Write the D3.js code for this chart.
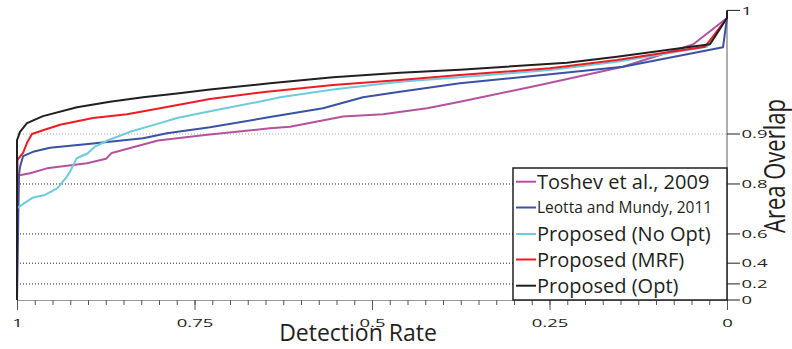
<!DOCTYPE html>
<html>
<head>
<meta charset="utf-8">
<script src="https://cdn.jsdelivr.net/npm/d3@7"></script>
<style>
  html, body { margin: 0; padding: 0; background: #fff; }
  svg { display: block; font-family: "Open Sans", sans-serif; }
</style>
</head>
<body>
<svg id="chart" width="792" height="349"></svg>
<script>
// Detection rate (x, reversed) versus area overlap (y, log-of-error scale)
const rateTicks = [1, 0.75, 0.5, 0.25, 0];
const rateTickLabels = ["1", "0.75", "0.5", "0.25", "0"];
const overlapTicks = [0, 0.2, 0.4, 0.6, 0.8, 0.9, 1];
const overlapTickLabels = ["0", "0.2", "0.4", "0.6", "0.8", "0.9", "1"];
const gridDark = [0.2, 0.4, 0.6, 0.8];
const gridLight = [0.9];

const seriesNames = ["Toshev et al., 2009", "Leotta and Mundy, 2011", "Proposed (No Opt)", "Proposed (MRF)", "Proposed (Opt)"];
const seriesColors = ["#b5519f", "#3a52a3", "#6ccbdc", "#ed1c24", "#231f20"];

const toshevRate    = [1, 1, 0.9982, 0.9817, 0.9577, 0.9014, 0.8746, 0.8666, 0.8014, 0.7352, 0.6437, 0.6155, 0.5408, 0.4845, 0.4225, 0.3761, 0.2634, 0.1465, 0.0479, 0];
const toshevOverlap = [0, 0.821, 0.822, 0.8275, 0.839, 0.850, 0.859, 0.870, 0.8906, 0.8986, 0.9076, 0.9096, 0.9216, 0.9239, 0.930, 0.936, 0.9493, 0.9607, 0.9711, 0.98];

const leottaRate    = [1, 0.9972, 0.9958, 0.9915, 0.9775, 0.9535, 0.8930, 0.8225, 0.7887, 0.7282, 0.6437, 0.5690, 0.5127, 0.4606, 0.3761, 0.2592, 0.1465, 0.0056, 0];
const leottaOverlap = [0, 0.823, 0.842, 0.864, 0.872, 0.879, 0.886, 0.894, 0.901, 0.909, 0.921, 0.930, 0.940, 0.9444, 0.9505, 0.9559, 0.9607, 0.970, 0.98];

const noOptRate    = [1, 1, 0.9887, 0.9770, 0.9606, 0.9430, 0.9310, 0.9254, 0.9159, 0.9007, 0.8901, 0.8718, 0.8408, 0.7986, 0.7746, 0.7282, 0.6437, 0.6296, 0.5549, 0.4606, 0.3761, 0.2493, 0.1549, 0.0282, 0];
const noOptOverlap = [0, 0.720, 0.741, 0.759, 0.767, 0.788, 0.816, 0.831, 0.860, 0.869, 0.881, 0.891, 0.903, 0.914, 0.920, 0.927, 0.938, 0.940, 0.946, 0.9516, 0.9545, 0.9588, 0.9633, 0.9702, 0.98];

const mrfRate    = [1, 1, 0.9993, 0.9958, 0.9915, 0.9859, 0.9789, 0.9634, 0.9394, 0.8930, 0.8451, 0.7986, 0.7282, 0.6479, 0.5549, 0.4606, 0.3761, 0.2493, 0.1549, 0.0620, 0.0310, 0];
const mrfOverlap = [0, 0.743, 0.857, 0.863, 0.870, 0.887, 0.900, 0.905, 0.912, 0.920, 0.924, 0.930, 0.9385, 0.9444, 0.9493, 0.9527, 0.9559, 0.9598, 0.9642, 0.9688, 0.9702, 0.98];

const optRate    = [1, 1, 0.9958, 0.9859, 0.9634, 0.9155, 0.8690, 0.8225, 0.7746, 0.7282, 0.6437, 0.5549, 0.4606, 0.3761, 0.2254, 0.1549, 0.0845, 0.0239, 0, 0];
const optOverlap = [0, 0.891, 0.903, 0.914, 0.922, 0.931, 0.936, 0.940, 0.943, 0.946, 0.9505, 0.9545, 0.9573, 0.959, 0.9628, 0.9658, 0.9688, 0.9712, 0.98, 1];

const seriesRates = [toshevRate, leottaRate, noOptRate, mrfRate, optRate];
const seriesOverlaps = [toshevOverlap, leottaOverlap, noOptOverlap, mrfOverlap, optOverlap];

const svg = d3.select("#chart");
const plotLeft = 17, plotRight = 727, plotBottom = 300, plotTop = 10.4;

const x = d3.scaleLinear().domain([1, 0]).range([plotLeft, plotRight]);
// overlap is shown on a log scale of (1 - overlap), floored so that 1 sits at the top
const errFloor = 0.018;
const yErr = d3.scaleLog().domain([1, errFloor]).range([plotBottom, plotTop]);
const y = v => yErr(Math.max(1 - v, errFloor));

// axis numbers use a wide, short lettering
const tickFont = 11.7, tickStretch = 1.58;

// dotted reference lines
svg.append("g").selectAll("line").data(gridDark).join("line")
  .attr("x1", plotLeft).attr("x2", plotRight)
  .attr("y1", d => y(d)).attr("y2", d => y(d))
  .attr("stroke", "#231f20").attr("stroke-width", 1).attr("stroke-dasharray", "1,2");
svg.append("g").selectAll("line").data(gridLight).join("line")
  .attr("x1", plotLeft).attr("x2", plotRight)
  .attr("y1", d => y(d)).attr("y2", d => y(d))
  .attr("stroke", "#aaa").attr("stroke-width", 1).attr("stroke-dasharray", "1,2");

// x axis: minor and major ticks
const minorTicks = d3.range(0, 41).map(i => i / 40);
const xMinor = svg.append("g").attr("transform", `translate(0,${plotBottom})`)
  .call(d3.axisBottom(x).tickValues(minorTicks).tickSize(5).tickFormat(""));
xMinor.select(".domain").attr("stroke", "#999");
xMinor.selectAll(".tick line").attr("stroke", "#555");
const xMajor = svg.append("g").attr("transform", `translate(0,${plotBottom})`)
  .call(d3.axisBottom(x).tickValues(rateTicks).tickSize(10).tickPadding(8.2)
    .tickFormat((d, i) => rateTickLabels[i]));
xMajor.select(".domain").remove();
xMajor.selectAll(".tick line").attr("stroke", "#555");
xMajor.selectAll(".tick text").attr("font-size", tickFont).attr("fill", "#231f20")
  .attr("font-family", "'Open Sans', sans-serif")
  .attr("transform", `scale(${tickStretch},1)`);

svg.append("text").attr("x", 358).attr("y", 340.5).attr("text-anchor", "middle")
  .attr("font-size", 23).attr("fill", "#231f20").text("Detection Rate");

// y axis on the right
svg.append("line").attr("x1", plotRight).attr("x2", plotRight).attr("y1", plotTop).attr("y2", plotBottom)
  .attr("stroke", "#999").attr("stroke-width", 1.6);
const yTick = svg.append("g").selectAll("g").data(overlapTicks).join("g")
  .attr("transform", d => `translate(${plotRight},${y(d)})`);
yTick.append("line").attr("x1", 0).attr("x2", 13).attr("stroke", "#231f20").attr("stroke-width", 1);
yTick.append("text").attr("dy", "0.36em").attr("font-size", tickFont)
  .attr("transform", `translate(14.5,0) scale(${tickStretch},1)`)
  .attr("fill", "#231f20").text((d, i) => overlapTickLabels[i]);

svg.append("text").attr("transform", `translate(784.5,166) rotate(-90) scale(1,1.3)`)
  .attr("text-anchor", "middle").attr("font-size", 22).attr("fill", "#231f20").text("Area Overlap");

// curves
const line = d3.line().x(d => x(d[0])).y(d => y(d[1]));
svg.append("g").selectAll("path").data(seriesNames).join("path")
  .attr("d", (n, i) => line(d3.zip(seriesRates[i], seriesOverlaps[i])))
  .attr("fill", "none").attr("stroke", (n, i) => seriesColors[i])
  .attr("stroke-width", 2).attr("stroke-linejoin", "round");

// legend
const legend = svg.append("g");
legend.append("rect").attr("x", 513).attr("y", 168).attr("width", plotRight - 513).attr("height", plotBottom - 168)
  .attr("fill", "#fff").attr("stroke", "#231f20").attr("stroke-width", 1.5);
const rowY = [181.7, 207.5, 234, 259.5, 285.7];
const rowSize = [20, 15.5, 20, 20, 20];
const row = legend.selectAll("g.row").data(seriesNames).join("g").attr("class", "row")
  .attr("transform", (d, i) => `translate(0,${rowY[i]})`);
row.append("line").attr("x1", 516).attr("x2", 536)
  .attr("stroke", (d, i) => seriesColors[i]).attr("stroke-width", 2);
row.append("text").attr("x", 537).attr("dy", "0.36em")
  .attr("font-size", (d, i) => rowSize[i]).attr("fill", "#231f20").text(d => d);
</script>
</body>
</html>
